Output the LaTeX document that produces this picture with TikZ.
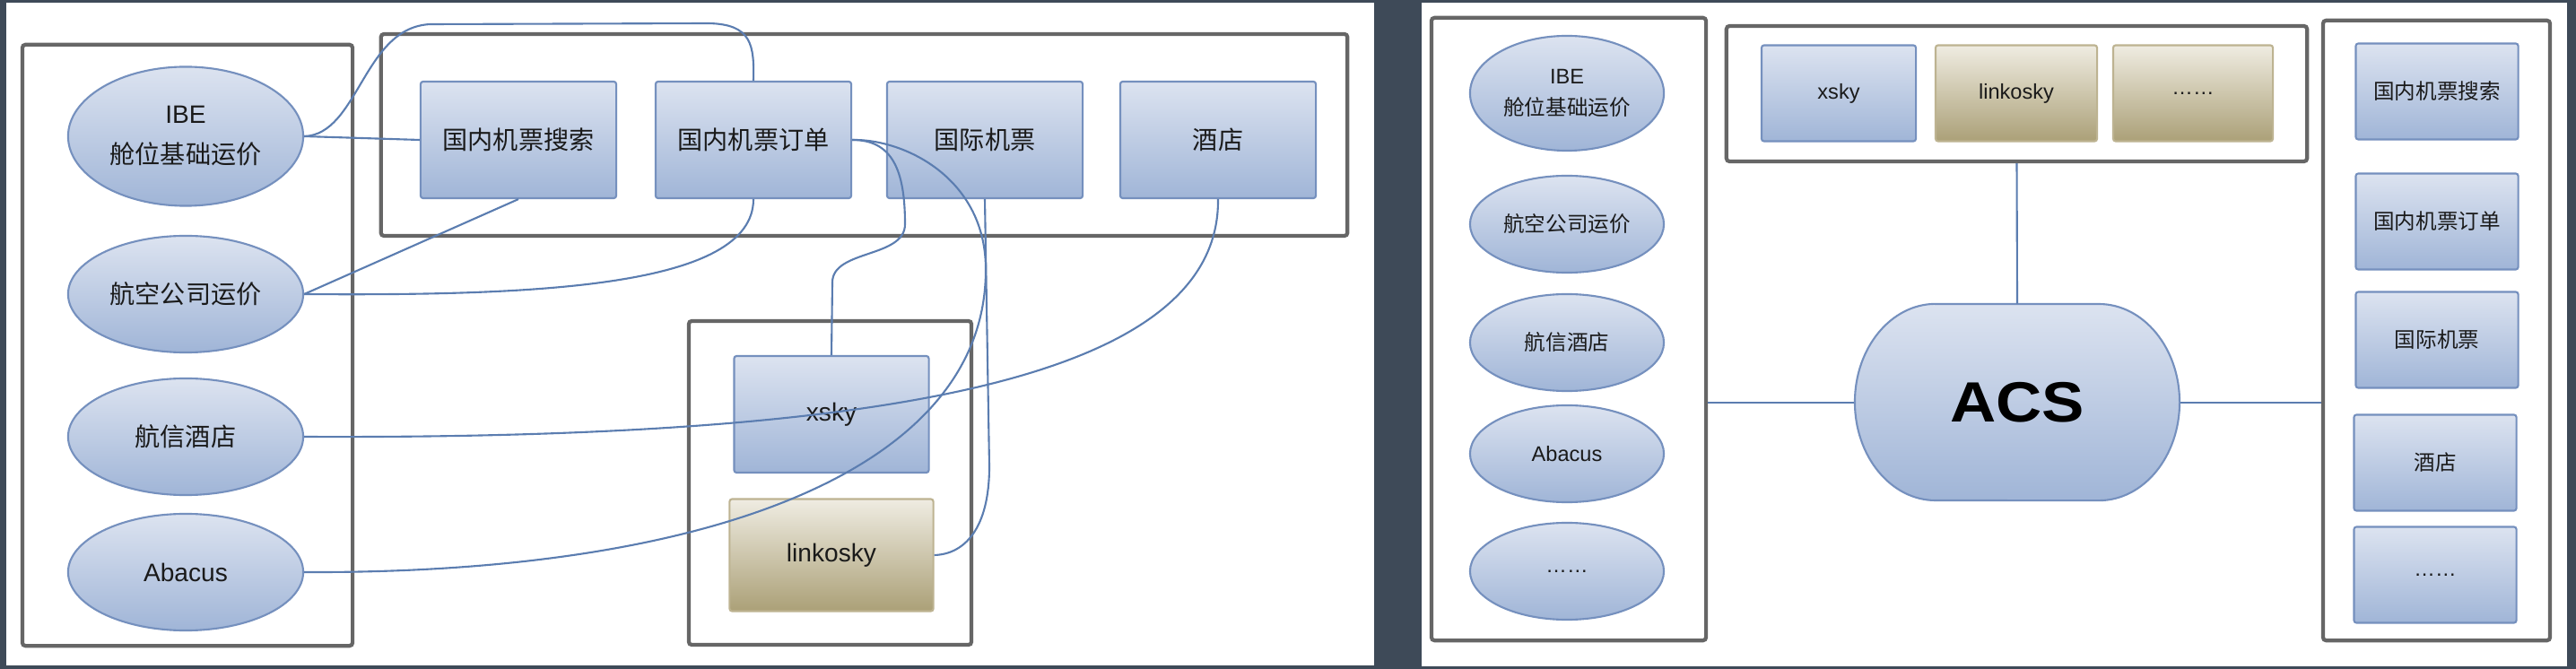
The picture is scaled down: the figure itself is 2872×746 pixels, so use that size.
\documentclass[tikz,border=0pt]{standalone}
\usepackage{fontspec}
\setmainfont{Liberation Sans}
\newfontfamily\cjk{Noto Sans CJK SC}
\usepackage{tikz}
\usetikzlibrary{shapes.geometric}
\definecolor{bg}{HTML}{3E4A58}
\definecolor{framec}{HTML}{666666}
\definecolor{linkc}{HTML}{5B7DB0}
\definecolor{bluedraw}{HTML}{7590BE}
\definecolor{bluetop}{HTML}{DCE3F0}
\definecolor{bluebot}{HTML}{A0B5D7}
\definecolor{tandraw}{HTML}{BDB391}
\definecolor{tantop}{HTML}{EFECE2}
\definecolor{tanbot}{HTML}{ABA077}
\definecolor{ink}{HTML}{1A1A1A}
\newcommand\zh[1]{{\cjk #1}}
\tikzset{
  grpframe/.style={draw=framec, line width=1.2pt, rounded corners=1pt, inner sep=0pt},
  link/.style={draw=linkc, line width=0.6pt},
  sysbox/.style={draw=bluedraw, top color=bluetop, bottom color=bluebot, line width=0.6pt,
    rounded corners=0.8pt, inner sep=0pt, text=ink, align=center,
    minimum width=2.18cm, minimum height=1.3cm, font=\fontsize{8}{12.8}\selectfont},
  gdsbox/.style={sysbox, draw=tandraw, top color=tantop, bottom color=tanbot},
  src/.style={sysbox, ellipse, sharp corners, minimum width=2.62cm},
  srcsm/.style={src, minimum width=2.16cm, minimum height=1.08cm, font=\fontsize{6.7}{10.2}\selectfont},
  syssm/.style={sysbox, minimum width=1.81cm, minimum height=1.07cm, font=\fontsize{6.7}{10.2}\selectfont},
  gdssm/.style={gdsbox, minimum width=1.81cm, minimum height=1.07cm, font=\fontsize{6.7}{10.2}\selectfont},
}
\begin{document}
\begin{tikzpicture}[x=0.01cm, y=-0.01cm]
  \fill[bg] (0,0) rectangle (2872,746);
  \useasboundingbox (0,0) rectangle (2872,746);
  \fill[white] (7,3) rectangle (1532,742);
  \fill[white] (1585,3) rectangle (2862,743);

  % left: direct links
  \node[grpframe, minimum width=3.68cm, minimum height=6.70cm] (srcL) at (209,385) {};
  \node[grpframe, minimum width=10.77cm, minimum height=2.25cm] (appL) at (963.5,150.5) {};
  \node[grpframe, minimum width=3.15cm, minimum height=3.61cm] (gdsL) at (925.5,538.5) {};
  \node[src, minimum height=1.55cm] (ibeL) at (207,152) {IBE\\\zh{舱位基础运价}};
  \node[src] (airL) at (207,328) {\zh{航空公司运价}};
  \node[src] (hxL) at (207,487) {\zh{航信酒店}};
  \node[src] (abL) at (207,638) {Abacus};
  \node[sysbox] (srchL) at (578,156) {\zh{国内机票搜索}};
  \node[sysbox] (ordL) at (840,156) {\zh{国内机票订单}};
  \node[sysbox] (intlL) at (1098,156) {\zh{国际机票}};
  \node[sysbox] (htlL) at (1358,156) {\zh{酒店}};
  \node[sysbox, minimum width=2.17cm] (xskyL) at (927,462) {xsky};
  \node[gdsbox, minimum width=2.27cm, minimum height=1.25cm] (lnkL) at (927,619) {linkosky};

  \draw[link] (ibeL.east) -- (srchL.west);
  \draw[link] (ibeL.east) .. controls (400,150) and (405,30) .. (480,27) -- (790,26)
    .. controls (838,27) and (841,50) .. (ordL.north);
  \draw[link] (airL.east) -- (srchL.south);
  \draw[link] (airL.east) .. controls (600,330) and (840,320) .. (ordL.south);
  \draw[link] (hxL.east) .. controls (1000,490) and (1360,420) .. (htlL.south);
  \draw[link] (abL.east) .. controls (800,640) and (1100,520) .. (1099,300)
    .. controls (1099,200) and (1010,155) .. (ordL.east);
  \draw[link] (ordL.east) .. controls (995,156) and (1009,190) .. (1009,250)
    .. controls (1009,288) and (928,278) .. (928,315) -- (xskyL.north);
  \draw[link] (intlL.south) -- (1103,520) .. controls (1103,590) and (1075,618) .. (lnkL.east);

  % right: through ACS
  \node[grpframe, minimum width=3.06cm, minimum height=6.94cm] (srcR) at (1749,367) {};
  \node[grpframe, minimum width=6.47cm, minimum height=1.51cm] (gdsR) at (2248.5,104.5) {};
  \node[grpframe, minimum width=2.53cm, minimum height=6.91cm] (appR) at (2716.5,368.5) {};
  \node[srcsm, minimum height=1.28cm] (ibeR) at (1747,104) {IBE\\\zh{舱位基础运价}};
  \node[srcsm] (airR) at (1747,250) {\zh{航空公司运价}};
  \node[srcsm] (hxR) at (1747,382) {\zh{航信酒店}};
  \node[srcsm] (abR) at (1747,506) {Abacus};
  \node[srcsm] (moreSR) at (1747,637) {……};
  \node[syssm, minimum width=1.72cm] (xskyR) at (2050,104) {xsky};
  \node[gdssm, minimum width=1.80cm] (lnkR) at (2248,104) {linkosky};
  \node[gdssm, minimum width=1.78cm] (moreGR) at (2445,104) {……};
  \node[syssm] (srchR) at (2717,102) {\zh{国内机票搜索}};
  \node[syssm] (ordR) at (2717,247) {\zh{国内机票订单}};
  \node[syssm] (intlR) at (2717,379) {\zh{国际机票}};
  \node[syssm] (htlR) at (2715,516) {\zh{酒店}};
  \node[syssm] (moreAR) at (2715,641) {……};

  \path[draw=bluedraw, top color=bluetop, bottom color=bluebot, line width=0.6pt]
    (2158,339) -- (2340,339) arc[start angle=90, end angle=-90, x radius=0.9cm, y radius=1.095cm]
    -- (2158,558) arc[start angle=270, end angle=90, x radius=0.9cm, y radius=1.095cm] -- cycle;
  \node[inner sep=0pt, minimum width=3.62cm, minimum height=2.19cm, text=black,
    font=\bfseries\fontsize{18}{20}\selectfont] (acs) at (2249,449) {\scalebox{1.12}[1]{ACS}};

  \draw[link] (acs.west) -- (acs.west -| srcR.east);
  \draw[link] (acs.east) -- (acs.east -| appR.west);
  \draw[link] (gdsR.south) -- (acs.north);
\end{tikzpicture}
\end{document}
